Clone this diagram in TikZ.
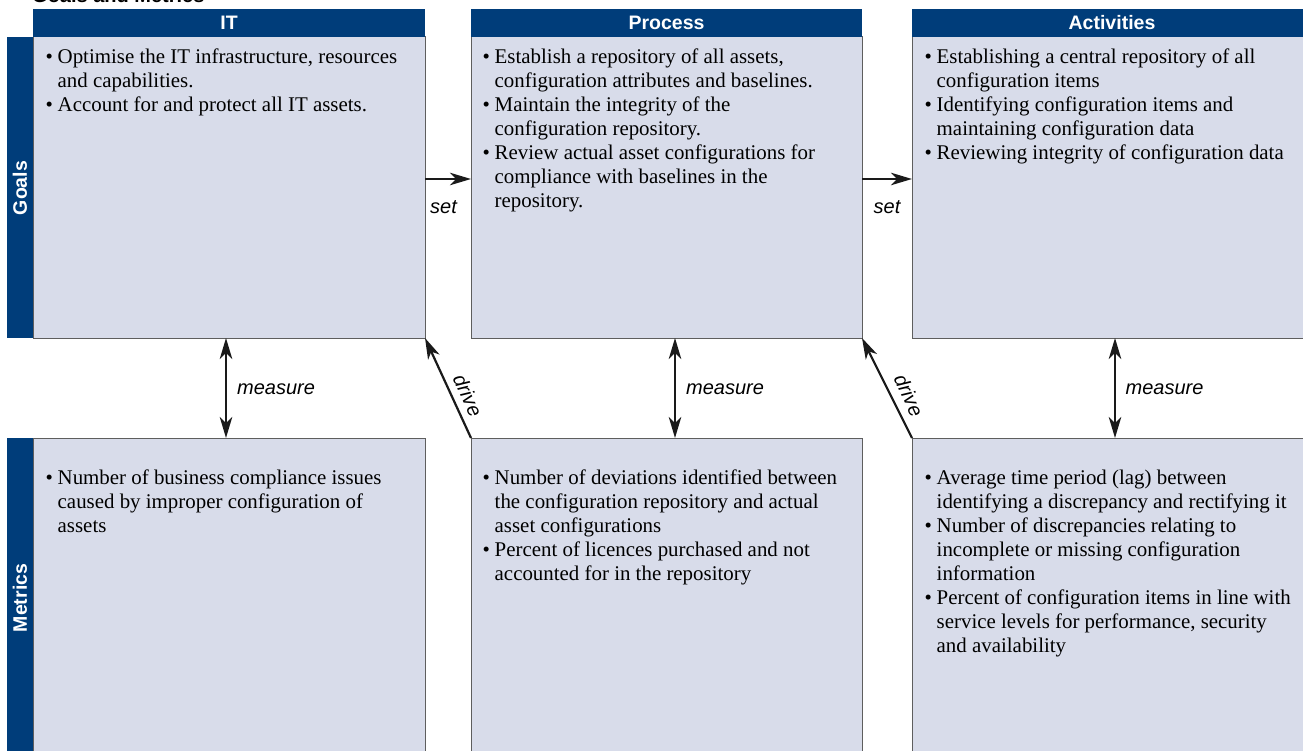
\documentclass[tikz,border=0pt]{standalone}
\usepackage{fontspec}
\setmainfont{Liberation Serif}
\setsansfont{Liberation Sans}
\usetikzlibrary{arrows.meta,calc}
\definecolor{hdrblue}{HTML}{003D7A}
\definecolor{boxfill}{HTML}{D8DCEA}
\definecolor{edgegray}{HTML}{5E5E5E}
\definecolor{arrowc}{HTML}{1A1A1A}
\newcommand{\bl}{\makebox[12pt][l]{•}}
\newcommand{\il}{\hspace*{12pt}}
\newcommand{\bodytext}[1]{\parbox[t]{420pt}{\raggedright\fontsize{20.9}{24}\selectfont #1}}
\begin{document}
\begin{tikzpicture}[x=1pt,y=-1pt,
  panel/.style={draw=edgegray,line width=1pt,fill=boxfill,anchor=north west,inner sep=0pt,outer sep=0pt},
  toprow/.style={panel,minimum height=301pt},
  botrow/.style={panel,minimum height=330pt},
  hdr/.style={fill=hdrblue,anchor=north west,inner sep=0pt,outer sep=0pt,minimum height=28pt,
    text=white,font=\sffamily\bfseries\fontsize{19.5}{22}\selectfont},
  sidebar/.style={fill=hdrblue,anchor=north west,inner sep=0pt,outer sep=0pt,minimum width=26pt},
  sidelbl/.style={rotate=90,text=white,font=\sffamily\bfseries\fontsize{19.5}{22}\selectfont,inner sep=0pt},
  body/.style={anchor=base west,inner sep=0pt},
  lbl/.style={font=\sffamily\itshape\fontsize{20}{24}\selectfont,inner sep=0pt},
  conn/.style={draw=arrowc,line width=2.2pt},
  tip/.style={-{Stealth[length=21pt,width=12.5pt,inset=6pt]}},
  tips/.style={{Stealth[length=21pt,width=12.5pt,inset=6pt]}-{Stealth[length=21pt,width=12.5pt,inset=6pt]}}
]
\useasboundingbox (0,0) rectangle (1303,751);
\clip (0,0) rectangle (1303,751);

% title
\node[anchor=base west,inner sep=0pt,font=\sffamily\bfseries\fontsize{20}{24}\selectfont] (title) at (32,3) {Goals and Metrics};

% top row panels
\node[toprow,minimum width=392pt] (itg) at (33,37) {};
\node[toprow,minimum width=391pt] (prg) at (471,37) {};
\node[toprow,minimum width=400pt] (acg) at (912,37) {};
% bottom row panels
\node[botrow,minimum width=392pt] (itm) at (33,438) {};
\node[botrow,minimum width=391pt] (prm) at (471,438) {};
\node[botrow,minimum width=400pt] (acm) at (912,438) {};

% headers
\node[hdr,minimum width=392pt] (hit) at (33,9) {IT};
\node[hdr,minimum width=391pt] (hpr) at (471,9) {Process};
\node[hdr,minimum width=400pt] (hac) at (912,9) {Activities};

% side bars
\node[sidebar,minimum height=301pt] (sg) at (7,37) {};
\node[sidebar,minimum height=330pt] (sm) at (7,438) {};
\node[sidelbl] (sgl) at (20,188) {Goals};
\node[sidelbl] (sml) at (20,598) {Metrics};

% body texts
\node[body] (t1) at (45.5,64) {\bodytext{\bl Optimise the IT infrastructure, resources\\
\il and capabilities.\\
\bl Account for and protect all IT assets.}};
\node[body] (t2) at (482.5,64) {\bodytext{\bl Establish a repository of all assets,\\
\il configuration attributes and baselines.\\
\bl Maintain the integrity of the\\
\il configuration repository.\\
\bl Review actual asset configurations for\\
\il compliance with baselines in the\\
\il repository.}};
\node[body] (t3) at (924.5,64) {\bodytext{\bl Establishing a central repository of all\\
\il configuration items\\
\bl Identifying configuration items and\\
\il maintaining configuration data\\
\bl Reviewing integrity of configuration data}};
\node[body] (t4) at (45.5,484) {\bodytext{\bl Number of business compliance issues\\
\il caused by improper configuration of\\
\il assets}};
\node[body] (t5) at (482.5,484) {\bodytext{\bl Number of deviations identified between\\
\il the configuration repository and actual\\
\il asset configurations\\
\bl Percent of licences purchased and not\\
\il accounted for in the repository}};
\node[body] (t6) at (924.5,484) {\bodytext{\bl Average time period (lag) between\\
\il identifying a discrepancy and rectifying it\\
\bl Number of discrepancies relating to\\
\il incomplete or missing configuration\\
\il information\\
\bl Percent of configuration items in line with\\
\il service levels for performance, security\\
\il and availability}};

% helper coordinates
\coordinate (srow) at (0,179);
\coordinate (mx1) at (226,0);
\coordinate (mx2) at (675,0);
\coordinate (mx3) at (1115,0);

% set arrows
\draw[conn,tip] (itg.east |- srow) -- (prg.west |- srow);
\draw[conn,tip] (prg.east |- srow) -- (acg.west |- srow);
\node[lbl,anchor=base] (set1) at (443.5,213.5) {set};
\node[lbl,anchor=base] (set2) at (887,213.5) {set};

% measure arrows
\draw[conn,tips] (itg.south -| mx1) -- (itm.north -| mx1);
\draw[conn,tips] (prg.south -| mx2) -- (prm.north -| mx2);
\draw[conn,tips] (acg.south -| mx3) -- (acm.north -| mx3);
\node[lbl,anchor=base west] (me1) at (237,394.3) {measure};
\node[lbl,anchor=base west] (me2) at (686,394.3) {measure};
\node[lbl,anchor=base west] (me3) at (1125.5,394.3) {measure};

% drive arrows
\draw[conn,tip] (prm.north west) -- (itg.south east);
\draw[conn,tip] (acm.north west) -- (prg.south east);
\node[lbl,rotate=-65.3] (dr1) at (468,395.5) {drive};
\node[lbl,rotate=-65.3] (dr2) at (909,395.5) {drive};
\end{tikzpicture}
\end{document}
